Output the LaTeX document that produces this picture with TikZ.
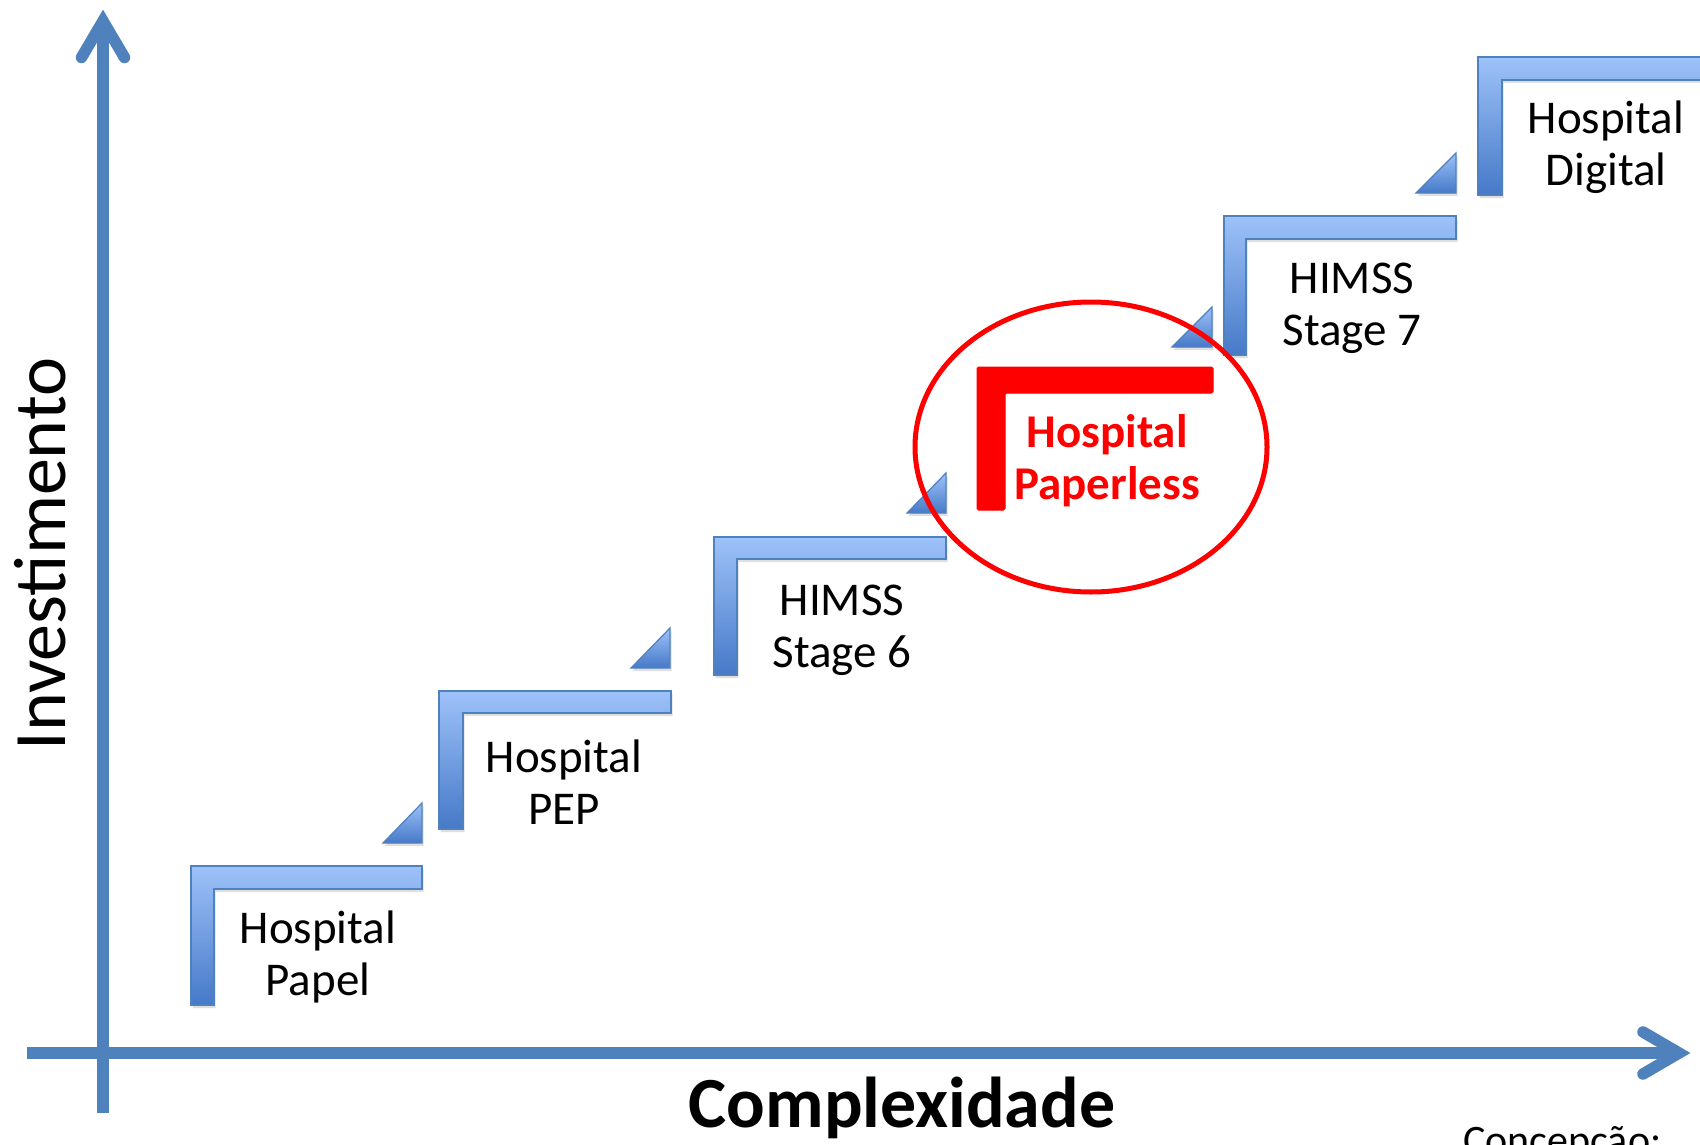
\documentclass[tikz,border=0pt]{standalone}
\usepackage{fontspec}
\setmainfont{Carlito}
\usetikzlibrary{shadows}
\definecolor{axisblue}{RGB}{79,129,189}
\definecolor{steptop}{RGB}{158,194,249}
\definecolor{stepbot}{RGB}{70,121,200}
\definecolor{stepline}{RGB}{79,129,189}
\definecolor{hotred}{RGB}{255,0,0}
\begin{document}
\begin{tikzpicture}[x=1pt,y=-1pt,
  axisline/.style={draw=axisblue, line width=11.5pt},
  axishead/.style={draw=axisblue, line width=11.5pt, line cap=round, line join=miter},
  axisshadow/.style={draw=black, opacity=0.12, line width=11.5pt, xshift=1.5pt, yshift=-3pt},
  stepshape/.style={top color=steptop, bottom color=stepbot, draw=stepline, line width=1.2pt,
    drop shadow={shadow xshift=1.5pt, shadow yshift=-3pt, opacity=0.25}},
  redstep/.style={fill=hotred, draw=hotred, line width=1pt, rounded corners=1.5pt},
  labeltext/.style={font=\fontsize{47}{52}\selectfont, inner sep=0pt, anchor=base},
  redtext/.style={font=\fontsize{47}{52}\selectfont\bfseries, text=hotred},
  ring/.style={draw=hotred, line width=5pt}
]
\useasboundingbox (0,0) rectangle (1700,1145);
\clip (0,0) rectangle (1700,1145);
\fill[white] (0,0) rectangle (1700,1145);

% axes
\coordinate (ybot) at (103,1113);
\coordinate (ytip) at (103,21);
\coordinate (ywl) at (81.5,57.5);
\coordinate (ywr) at (124.5,57.5);
\coordinate (xleft) at (27,1053);
\coordinate (xtip) at (1679,1053);
\coordinate (xwu) at (1643,1032);
\coordinate (xwd) at (1643,1074);
\draw[axisshadow] (ybot) -- (ytip);
\draw[axisshadow] (xleft) -- (xtip);
\draw[axisline] (ybot) -- (ytip);
\draw[axishead] (ywl) -- (ytip) -- (ywr);
\draw[axisline] (xleft) -- (xtip);
\draw[axishead] (xwu) -- (xtip) -- (xwd);

% steps
\draw[stepshape] (191,866) -- ++(231,0) -- ++(0,23) -- ++(-208,0) -- ++(0,116) -- ++(-23,0) -- cycle;
\draw[stepshape] (439,691) -- ++(232,0) -- ++(0,22) -- ++(-208,0) -- ++(0,116) -- ++(-24,0) -- cycle;
\draw[stepshape] (714,537) -- ++(232,0) -- ++(0,22) -- ++(-209,0) -- ++(0,116) -- ++(-23,0) -- cycle;
\draw[stepshape] (1224,216) -- ++(232,0) -- ++(0,23) -- ++(-210,0) -- ++(0,116) -- ++(-22,0) -- cycle;
\draw[stepshape] (1478,57) -- ++(260,0) -- ++(0,23) -- ++(-236,0) -- ++(0,115) -- ++(-24,0) -- cycle;
\draw[redstep] (977,367) -- (1213,367) -- (1213,393) -- (1005,393) -- (1005,510) -- (977,510) -- cycle;

% small triangles
\draw[stepshape] (383,843) -- (422,843) -- (422,803) -- cycle;
\draw[stepshape] (631,668) -- (670,668) -- (670,628) -- cycle;
\draw[stepshape] (907,513) -- (946,513) -- (946,473) -- cycle;
\draw[stepshape] (1172,347) -- (1212,347) -- (1212,307) -- cycle;
\draw[stepshape] (1416,193) -- (1456,193) -- (1456,153) -- cycle;

% labels
\node[labeltext] (l1) at (318,943) {\begin{tabular}[t]{@{}c@{}}Hospital\\Papel\end{tabular}};
\node[labeltext] (l2) at (564,772) {\begin{tabular}[t]{@{}c@{}}Hospital\\PEP\end{tabular}};
\node[labeltext] (l3) at (842,615) {\begin{tabular}[t]{@{}c@{}}HIMSS\\Stage 6\end{tabular}};
\node[labeltext, redtext] (l4) at (1107,447) {\begin{tabular}[t]{@{}c@{}}Hospital\\Paperless\end{tabular}};
\node[labeltext] (l5) at (1352,293) {\begin{tabular}[t]{@{}c@{}}HIMSS\\Stage 7\end{tabular}};
\node[labeltext] (l6) at (1606,134) {\begin{tabular}[t]{@{}c@{}}Hospital\\Digital\end{tabular}};

% highlight ring
\draw[ring] (1091,447) ellipse [x radius=176, y radius=145];

% axis titles
\node[font=\fontsize{74}{80}\selectfont, rotate=90, anchor=base, inner sep=0pt] (ylab) at (65,554) {Investimento};
\node[font=\fontsize{72}{80}\selectfont\bfseries, anchor=base, inner sep=0pt] (xlab) at (902,1127) {Complexidade};
\node[font=\fontsize{42}{48}\selectfont, anchor=base west, inner sep=0pt] (credit) at (1463,1154) {Concepção:};
\end{tikzpicture}
\end{document}
